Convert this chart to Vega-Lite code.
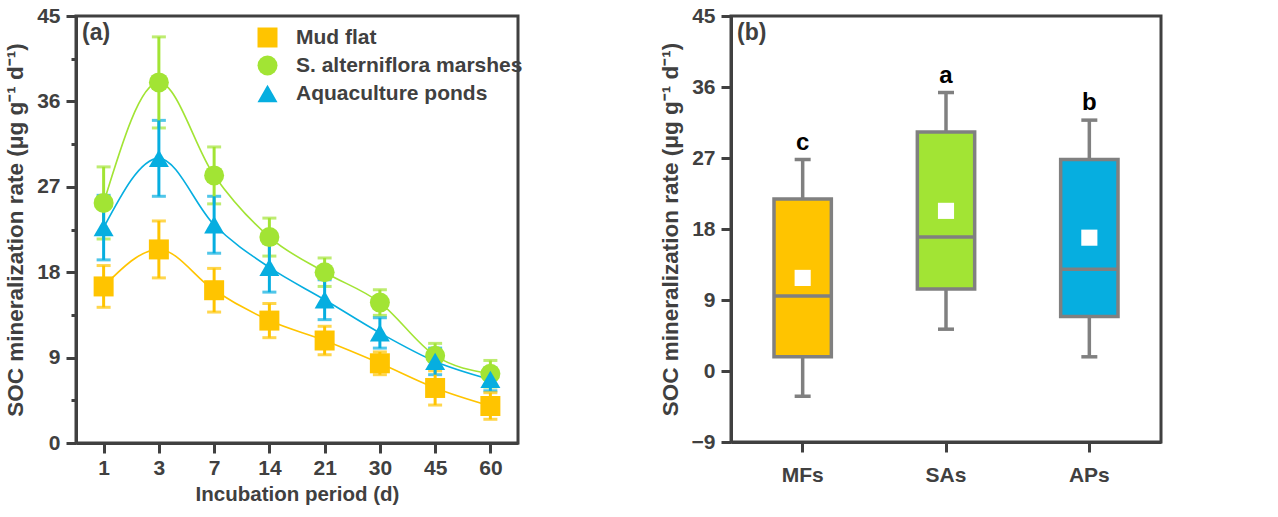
{
  "$schema": "https://vega.github.io/schema/vega-lite/v6.json",
  "padding": {"left": 3, "top": 3, "right": 8, "bottom": 5},
  "spacing": 132,
  "resolve": {"scale": {"color": "independent", "shape": "independent"}, "legend": {"color": "independent", "shape": "independent"}},
  "config": {
    "font": "Liberation Sans",
    "view": {"stroke": "#404040", "strokeWidth": 3},
    "axis": {
      "domainColor": "#404040", "domainWidth": 3,
      "tickColor": "#404040", "tickWidth": 3, "tickSize": 10,
      "labelFont": "Liberation Sans", "labelFontSize": 21, "labelFontWeight": "bold", "labelColor": "#404040",
      "titleFont": "Liberation Sans", "titleFontSize": 21, "titleFontWeight": "bold", "titleColor": "#404040",
      "grid": false
    }
  },
  "hconcat": [
    {
      "width": 442,
      "height": 427,
      "title": {"text": "(a)", "anchor": "start", "frame": "group", "orient": "top", "offset": -40, "dx": 6, "fontSize": 23, "fontWeight": "bold", "color": "#404040", "font": "Liberation Sans"},
      "data": {"values": [
        {"day": "1", "series": "Mud flat", "v": 16.5, "err": 2.2},
        {"day": "3", "series": "Mud flat", "v": 20.4, "err": 3.0},
        {"day": "7", "series": "Mud flat", "v": 16.1, "err": 2.3},
        {"day": "14", "series": "Mud flat", "v": 12.9, "err": 1.8},
        {"day": "21", "series": "Mud flat", "v": 10.8, "err": 1.5},
        {"day": "30", "series": "Mud flat", "v": 8.4, "err": 1.2},
        {"day": "45", "series": "Mud flat", "v": 5.8, "err": 1.8},
        {"day": "60", "series": "Mud flat", "v": 3.9, "err": 1.4},
        {"day": "1", "series": "S. alterniflora marshes", "v": 25.3, "err": 3.8},
        {"day": "3", "series": "S. alterniflora marshes", "v": 38.0, "err": 4.8},
        {"day": "7", "series": "S. alterniflora marshes", "v": 28.2, "err": 3.0},
        {"day": "14", "series": "S. alterniflora marshes", "v": 21.7, "err": 2.0},
        {"day": "21", "series": "S. alterniflora marshes", "v": 18.0, "err": 1.5},
        {"day": "30", "series": "S. alterniflora marshes", "v": 14.8, "err": 1.35},
        {"day": "45", "series": "S. alterniflora marshes", "v": 9.2, "err": 1.3},
        {"day": "60", "series": "S. alterniflora marshes", "v": 7.3, "err": 1.4},
        {"day": "1", "series": "Aquaculture ponds", "v": 22.7, "err": 3.4},
        {"day": "3", "series": "Aquaculture ponds", "v": 30.0, "err": 4.0},
        {"day": "7", "series": "Aquaculture ponds", "v": 23.0, "err": 3.0},
        {"day": "14", "series": "Aquaculture ponds", "v": 18.5, "err": 2.6},
        {"day": "21", "series": "Aquaculture ponds", "v": 15.1, "err": 2.1},
        {"day": "30", "series": "Aquaculture ponds", "v": 11.6, "err": 1.6},
        {"day": "45", "series": "Aquaculture ponds", "v": 8.6, "err": 1.4},
        {"day": "60", "series": "Aquaculture ponds", "v": 6.7, "err": 1.2}
      ]},
      "encoding": {
        "x": {"field": "day", "type": "ordinal", "sort": ["1", "3", "7", "14", "21", "30", "45", "60"],
              "scale": {"type": "point", "padding": 0.5},
              "axis": {"title": "Incubation period (d)", "labelAngle": 0, "labelPadding": 4, "titlePadding": 6, "titleFontSize": 20.5}},
        "y": {"field": "v", "type": "quantitative", "scale": {"domain": [0, 45], "nice": false},
              "axis": {"title": "SOC mineralization rate  (μg g⁻¹ d⁻¹)", "titlePadding": 9, "labelPadding": 6, "titleFontSize": 22.5,
                       "values": [0, 4.5, 9, 13.5, 18, 22.5, 27, 31.5, 36, 40.5, 45],
                       "labelExpr": "datum.value % 9 == 0 ? datum.label : ''",
                       "tickSize": {"condition": {"test": "datum.value % 9 == 0", "value": 10}, "value": 5}}},
        "color": {"field": "series", "type": "nominal",
                  "scale": {"domain": ["Mud flat", "S. alterniflora marshes", "Aquaculture ponds"], "range": ["#FFC400", "#A2E434", "#06AEE0"]},
                  "legend": {"title": null, "orient": "none", "legendX": 181, "legendY": 11, "labelLimit": 0,
                             "labelFontSize": 21, "labelFontWeight": "bold", "labelColor": "#404040", "labelFont": "Liberation Sans",
                             "symbolSize": 400, "symbolStrokeWidth": 0, "symbolOpacity": 1, "labelOffset": 18, "rowPadding": 6}}
      },
      "layer": [
        {"mark": {"type": "line", "interpolate": "monotone", "strokeWidth": 1.6}},
        {"mark": {"type": "errorbar", "ticks": true, "size": 14, "thickness": 3},
         "encoding": {"yError": {"field": "err"}}},
        {"mark": {"type": "point", "filled": true, "opacity": 1, "size": 400},
         "encoding": {
           "shape": {"field": "series", "type": "nominal",
                     "scale": {"domain": ["Mud flat", "S. alterniflora marshes", "Aquaculture ponds"], "range": ["square", "circle", "triangle-up"]},
                     "legend": {"title": null, "orient": "none", "legendX": 181, "legendY": 11, "labelLimit": 0,
                                "labelFontSize": 21, "labelFontWeight": "bold", "labelColor": "#404040", "labelFont": "Liberation Sans",
                                "symbolSize": 400, "symbolStrokeWidth": 0, "symbolOpacity": 1, "labelOffset": 18, "rowPadding": 6}}
         }}
      ]
    },
    {
      "width": 430,
      "height": 426,
      "title": {"text": "(b)", "anchor": "start", "frame": "group", "orient": "top", "offset": -40, "dx": 6, "fontSize": 23, "fontWeight": "bold", "color": "#404040", "font": "Liberation Sans"},
      "data": {"values": [
        {"g": "MFs", "min": -3.2, "q1": 1.8, "med": 9.5, "q3": 21.8, "max": 26.8, "mean": 11.8, "letter": "c"},
        {"g": "SAs", "min": 5.3, "q1": 10.4, "med": 17.0, "q3": 30.3, "max": 35.3, "mean": 20.3, "letter": "a"},
        {"g": "APs", "min": 1.8, "q1": 6.9, "med": 12.9, "q3": 26.8, "max": 31.8, "mean": 16.9, "letter": "b"}
      ]},
      "encoding": {
        "x": {"field": "g", "type": "nominal", "sort": ["MFs", "SAs", "APs"],
              "scale": {"paddingInner": 0, "paddingOuter": 0},
              "axis": {"title": null, "labelAngle": 0, "labelPadding": 12}}
      },
      "layer": [
        {"mark": {"type": "rule", "color": "#808080", "strokeWidth": 3.5},
         "encoding": {"y": {"field": "max", "type": "quantitative", "scale": {"domain": [-9, 45], "nice": false},
                            "axis": {"title": "SOC mineralization rate  (μg g⁻¹ d⁻¹)", "titlePadding": 9, "labelPadding": 6, "titleFontSize": 22.5,
                                     "values": [-9, -4.5, 0, 4.5, 9, 13.5, 18, 22.5, 27, 31.5, 36, 40.5, 45],
                                     "labelExpr": "datum.value % 9 == 0 ? datum.label : ''",
                                     "tickSize": {"condition": {"test": "datum.value % 9 == 0", "value": 10}, "value": 5}}},
                      "y2": {"field": "q3"}}},
        {"mark": {"type": "rule", "color": "#808080", "strokeWidth": 3.5},
         "encoding": {"y": {"field": "q1", "type": "quantitative"}, "y2": {"field": "min"}}},
        {"mark": {"type": "tick", "color": "#808080", "thickness": 3.5, "size": 16, "opacity": 1},
         "encoding": {"y": {"field": "max", "type": "quantitative"}}},
        {"mark": {"type": "tick", "color": "#808080", "thickness": 3.5, "size": 16, "opacity": 1},
         "encoding": {"y": {"field": "min", "type": "quantitative"}}},
        {"mark": {"type": "bar", "width": {"band": 0.4}, "stroke": "#808080", "strokeWidth": 3.5, "opacity": 1},
         "encoding": {"y": {"field": "q1", "type": "quantitative"}, "y2": {"field": "q3"},
                      "color": {"field": "g", "type": "nominal", "scale": {"domain": ["MFs", "SAs", "APs"], "range": ["#FFC400", "#A2E434", "#06AEE0"]}, "legend": null}}},
        {"mark": {"type": "tick", "color": "#808080", "thickness": 3.5, "size": 57, "opacity": 1},
         "encoding": {"y": {"field": "med", "type": "quantitative"}}},
        {"mark": {"type": "point", "shape": "square", "filled": true, "color": "white", "opacity": 1, "size": 260},
         "encoding": {"y": {"field": "mean", "type": "quantitative"}}},
        {"mark": {"type": "text", "dy": -10, "baseline": "alphabetic", "fontSize": 24, "fontWeight": "bold", "color": "black", "font": "Liberation Sans"},
         "encoding": {"y": {"field": "max", "type": "quantitative"}, "text": {"field": "letter"}}}
      ]
    }
  ]
}
